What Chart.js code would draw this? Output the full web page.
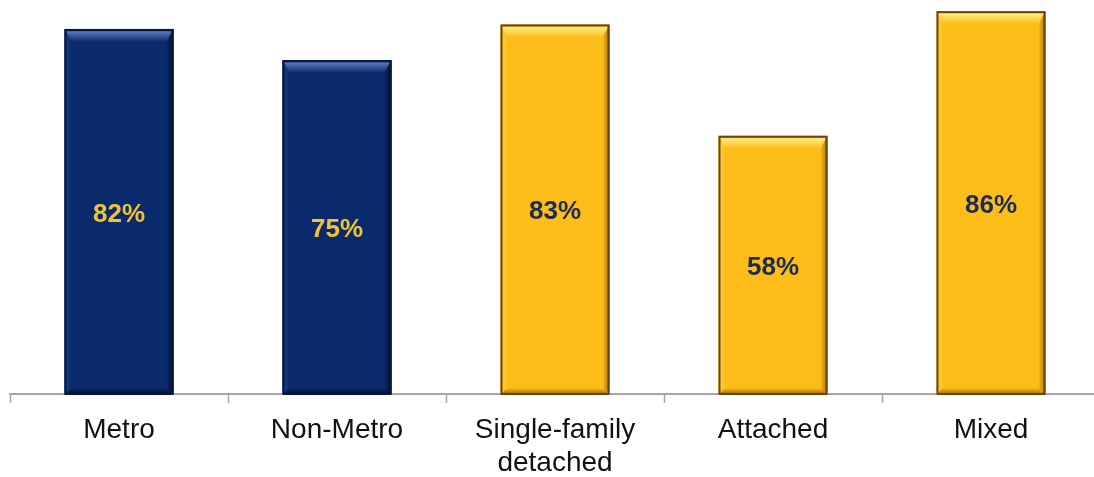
<!DOCTYPE html>
<html>
<head>
<meta charset="utf-8">
<script src="https://cdn.jsdelivr.net/npm/chart.js@4/dist/chart.umd.min.js"></script>
<style>
  html, body { margin: 0; padding: 0; background: #ffffff; overflow: hidden; }
  #wrap { width: 1100px; height: 477px; }
</style>
</head>
<body>
<div id="wrap"><canvas id="chart" width="1100" height="477"></canvas></div>
<script>
// Share of households by area and housing type
const categories = [['Metro'], ['Non-Metro'], ['Single-family', 'detached'], ['Attached'], ['Mixed']];
const shares = [82, 75, 83, 58, 86];
const groups = ['area', 'area', 'type', 'type', 'type'];

// Bar palettes per group
const palette = {
  area: { body: '#0b2a6b', light: '#5572b8', side: '#23438c', dark: '#020d2c', edge: '#051640', label: '#f4c430' },
  type: { body: '#fcbd18', light: '#ffe97a', side: '#ffd24a', dark: '#a06e08', edge: '#6a4214', label: '#1b2b55' }
};

// Bevelled look drawn over each bar
const bevelPlugin = {
  id: 'bevel',
  afterDatasetsDraw(chart) {
    const ctx = chart.ctx;
    const meta = chart.getDatasetMeta(0);
    meta.data.forEach((bar, i) => {
      const p = bar.getProps(['x', 'y', 'base', 'width'], true);
      const c = palette[groups[i]];
      const l = p.x - p.width / 2, r = p.x + p.width / 2, t = p.y, b = p.base;
      const tb = 13, sd = 7, bb = 6;
      ctx.save();
      // top band
      let g = ctx.createLinearGradient(0, t, 0, t + tb);
      g.addColorStop(0, c.body);
      g.addColorStop(0.25, c.light);
      g.addColorStop(1, c.body);
      ctx.fillStyle = g;
      ctx.beginPath();
      ctx.moveTo(l, t); ctx.lineTo(r, t); ctx.lineTo(r - sd, t + tb); ctx.lineTo(l + sd, t + tb); ctx.closePath();
      ctx.fill();
      // left band
      g = ctx.createLinearGradient(l, 0, l + sd, 0);
      g.addColorStop(0, c.side);
      g.addColorStop(1, c.body);
      ctx.fillStyle = g;
      ctx.beginPath();
      ctx.moveTo(l, t); ctx.lineTo(l + sd, t + tb); ctx.lineTo(l + sd, b - bb); ctx.lineTo(l, b); ctx.closePath();
      ctx.fill();
      // right band
      g = ctx.createLinearGradient(r - sd, 0, r, 0);
      g.addColorStop(0, c.body);
      g.addColorStop(1, c.dark);
      ctx.fillStyle = g;
      ctx.beginPath();
      ctx.moveTo(r, t); ctx.lineTo(r, b); ctx.lineTo(r - sd, b - bb); ctx.lineTo(r - sd, t + tb); ctx.closePath();
      ctx.fill();
      // bottom band
      g = ctx.createLinearGradient(0, b - bb, 0, b);
      g.addColorStop(0, c.body);
      g.addColorStop(1, c.dark);
      ctx.fillStyle = g;
      ctx.beginPath();
      ctx.moveTo(l, b); ctx.lineTo(r, b); ctx.lineTo(r - sd, b - bb); ctx.lineTo(l + sd, b - bb); ctx.closePath();
      ctx.fill();
      // outline
      ctx.strokeStyle = c.edge;
      ctx.lineWidth = 2;
      ctx.strokeRect(l + 1, t + 1, p.width - 2, b - t - 1);
      ctx.restore();
    });
  }
};

// Percentage written in the middle of each bar
const valueLabelPlugin = {
  id: 'valueLabels',
  afterDatasetsDraw(chart) {
    const ctx = chart.ctx;
    const meta = chart.getDatasetMeta(0);
    const values = chart.data.datasets[0].data;
    meta.data.forEach((bar, i) => {
      const p = bar.getProps(['x', 'y', 'base'], true);
      ctx.save();
      ctx.font = 'bold 26px "Liberation Sans", Arial, sans-serif';
      ctx.textAlign = 'center';
      ctx.textBaseline = 'middle';
      ctx.fillStyle = palette[groups[i]].label;
      ctx.fillText(values[i] + '%', p.x, (p.y + p.base) / 2 + 3);
      ctx.restore();
    });
  }
};

new Chart(document.getElementById('chart'), {
  type: 'bar',
  data: {
    labels: categories,
    datasets: [{
      data: shares,
      backgroundColor: groups.map(gp => palette[gp].body),
      borderWidth: 0,
      barPercentage: 0.5,
      categoryPercentage: 1.0
    }]
  },
  options: {
    responsive: false,
    animation: false,
    layout: { padding: { left: 10, right: 0, top: 0, bottom: 0 } },
    plugins: { legend: { display: false }, tooltip: { enabled: false } },
    scales: {
      x: {
        afterFit(scale) { scale.height = 83; },
        border: { display: true, color: '#a6a6a6', width: 2 },
        grid: { offset: true, drawOnChartArea: false, drawTicks: true, tickLength: 9, color: '#a6a6a6', tickWidth: 1.5 },
        ticks: {
          padding: 10,
          color: '#111111',
          maxRotation: 0,
          autoSkip: false,
          font: { family: '"Liberation Sans", Arial, sans-serif', size: 28, lineHeight: 1.2 }
        }
      },
      y: { display: false, min: 0, max: 88.5 }
    }
  },
  plugins: [bevelPlugin, valueLabelPlugin]
});
</script>
</body>
</html>
